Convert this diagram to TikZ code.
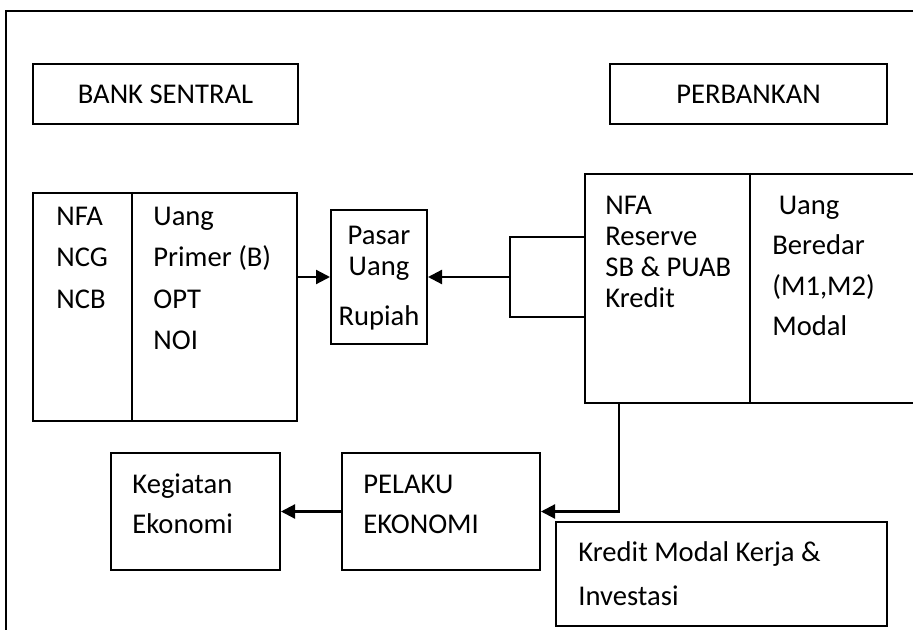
\documentclass[tikz,border=0pt]{standalone}
\usepackage{fontspec}
\setmainfont{Carlito}
\usetikzlibrary{fit,arrows.meta}
\begin{document}
\begin{tikzpicture}[x=0.5pt,y=-0.5pt,
  box/.style={draw,line width=1pt,inner sep=0pt},
  ln/.style={line width=1pt},
  arr/.style={line width=1.1pt,-{Triangle[length=7pt,width=7pt]}},
  lbl/.style={font=\fontsize{14.3pt}{20.75pt}\selectfont,inner sep=0pt},
  col/.style={lbl,align=left,anchor=base west}]
\useasboundingbox (0,0) rectangle (913,630);
\clip (0,0) rectangle (913,630);
% outer frame
\draw[ln] (930,11) -- (6,11) -- (6,640);
% boxes
\node[box,fit={(33,64)(298,124)}] (bs) {};
\node[box,fit={(610,64)(887,124)}] (pb) {};
\node[box,fit={(33,193)(297,421)}] (lb) {};
\node[box,fit={(331,210)(427,344)}] (pu) {};
\node[box,fit={(585,174)(940,403)}] (rb) {};
\node[box,fit={(342,453)(540,570)}] (pe) {};
\node[box,fit={(111,453)(280,570)}] (kg) {};
\node[box,fit={(556,522)(887,626)}] (km) {};
% dividers
\coordinate (d1) at (132,0);
\coordinate (d2) at (750,0);
\draw[ln] (lb.north -| d1) -- (lb.south -| d1);
\draw[ln] (rb.north -| d2) -- (rb.south -| d2);
% texts (anchored at the baseline of their last line)
\node[lbl] (tbs) at (bs.center) {BANK SENTRAL};
\node[lbl] (tpb) at (pb.center) {PERBANKAN};
\node[col] (t1) at (56,308) {NFA\\NCG\\NCB};
\node[col] (t2) at (153,349.5) {Uang\\Primer (B)\\OPT\\NOI};
\node[lbl,align=center,anchor=base] (t3) at (379,325) {Pasar\\[-5.75pt]Uang\\[4.25pt]Rupiah};
\node[col,font=\fontsize{14.3pt}{15.5pt}\selectfont] (t4) at (605,307) {NFA\\Reserve\\SB \& PUAB\\Kredit};
\node[col,font=\fontsize{14.3pt}{20pt}\selectfont] (t5) at (772,335) {\ Uang\\Beredar\\(M1,M2)\\Modal};
\node[col] (t6) at (363,533) {PELAKU\\[-0.75pt]EKONOMI};
\node[col] (t7) at (132,533) {Kegiatan\\[-0.75pt]Ekonomi};
\node[col,font=\fontsize{14.3pt}{22pt}\selectfont] (t8) at (578,605) {Kredit Modal Kerja \&\\Investasi};
% connectors
\draw[arr] (lb.east |- pu.west) -- (pu.west);
\coordinate (j) at (510,277);
\coordinate (ja) at (510,237);
\coordinate (jb) at (510,317);
\draw[ln] (rb.west |- ja) -- (ja) -- (jb) -- (rb.west |- jb);
\draw[arr] (j |- pu.east) -- (pu.east);
\coordinate (k) at (619,0);
\draw[arr] (rb.south -| k) |- (pe.east);
\draw[arr] (pe.west) -- (kg.east);
\end{tikzpicture}
\end{document}
